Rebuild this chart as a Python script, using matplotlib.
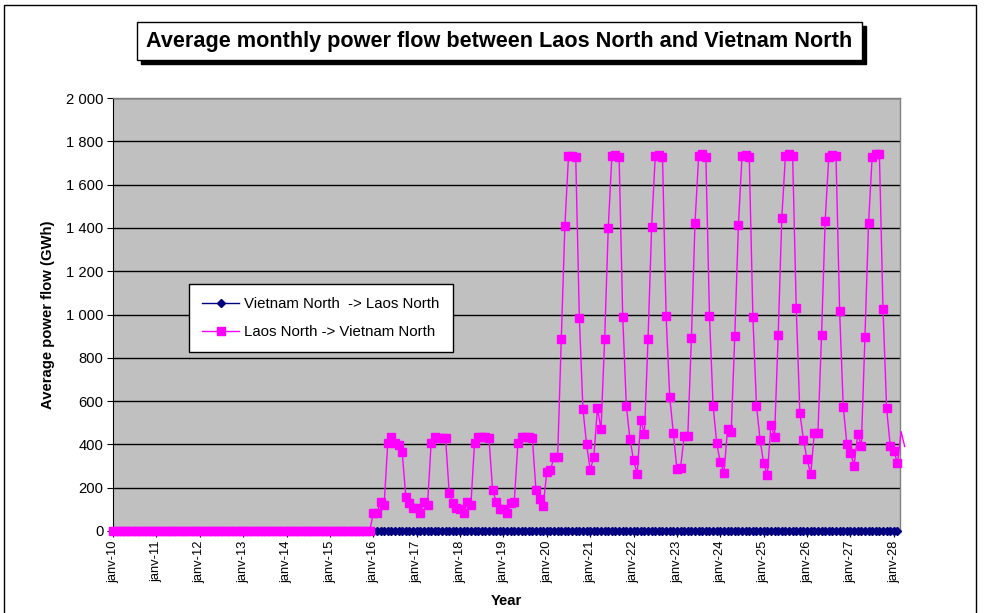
import matplotlib
matplotlib.use("Agg")
import matplotlib.pyplot as plt
from matplotlib.patches import Rectangle

plt.rcParams['font.family'] = ['Liberation Sans', 'DejaVu Sans']

# ---------------- data ----------------
title = "Average monthly power flow between Laos North and Vietnam North"
series_names = ["Vietnam North  -> Laos North", "Laos North -> Vietnam North"]
year_labels = ["janv-%02d" % y for y in range(10, 29)]

# Laos North -> Vietnam North, monthly GWh from Jan 2010
laos_2010_2015 = [0] * 72
laos_2016 = [82, 82, 135, 120, 405, 436, 408, 397, 363, 158, 129, 105]
laos_2017 = [105, 82, 135, 120, 405, 433, 430, 430, 428, 177, 131, 106]
laos_2018 = [100, 82, 134, 120, 406, 434, 436, 433, 428, 190, 135, 100]
laos_2019 = [100, 82, 128, 135, 405, 433, 436, 436, 428, 190, 148, 115]
laos_2020 = [274, 282, 340, 343, 885, 1409, 1732, 1732, 1729, 985, 562, 400]
laos_2021 = [282, 340, 566, 471, 885, 1401, 1732, 1737, 1729, 990, 577, 424]
laos_2022 = [328, 263, 513, 447, 887, 1406, 1732, 1737, 1729, 993, 620, 451]
laos_2023 = [285, 292, 439, 439, 890, 1424, 1732, 1741, 1729, 993, 579, 405]
laos_2024 = [317, 269, 471, 459, 902, 1413, 1732, 1737, 1729, 990, 579, 420]
laos_2025 = [312, 259, 490, 436, 905, 1444, 1732, 1741, 1732, 1029, 546, 420]
laos_2026 = [331, 262, 454, 454, 905, 1432, 1729, 1737, 1732, 1016, 574, 402]
laos_2027 = [362, 302, 448, 393, 895, 1421, 1729, 1741, 1741, 1025, 566, 393]
laos_2028 = [371, 312, 459, 390]

laos = (laos_2010_2015 + laos_2016 + laos_2017 + laos_2018 + laos_2019 +
        laos_2020 + laos_2021 + laos_2022 + laos_2023 + laos_2024 +
        laos_2025 + laos_2026 + laos_2027 + laos_2028)
# Vietnam North -> Laos North : zero throughout
vietnam = [0] * 218

y_ticks = list(range(0, 2001, 200))

# ---------------- figure ----------------
W, H = 986, 613
fig = plt.figure(figsize=(W / 100, H / 100), dpi=100)

def fx(px):
    return px / W

def fy(py):
    return 1 - py / H

# outer chart frame
fig.patches.append(Rectangle((fx(4), fy(640)), fx(976) - fx(4), fy(5) - fy(640),
                             transform=fig.transFigure, fill=False,
                             edgecolor='black', linewidth=1.0, zorder=0))

# plot area
L, R, T, B = 113, 900, 98, 531
ax = fig.add_axes([fx(L), fy(B), fx(R) - fx(L), fy(T) - fy(B)])
ax.set_facecolor('#C0C0C0')

n_last_marker = 217  # last month shown inside the plot (Feb 2028)
x_v = list(range(len(vietnam)))
x_l = list(range(len(laos)))

ax.plot(x_v, vietnam, color='#000080', linewidth=1.0, marker='D',
        markersize=4.2, markerfacecolor='#000080', markeredgecolor='#000080',
        clip_on=False, zorder=3, label=series_names[0])
ax.plot(x_l, laos, color='#FF00FF', linewidth=1.0, marker='s',
        markersize=5.8, markerfacecolor='#FF00FF', markeredgecolor='#FF00FF',
        markevery=list(range(0, n_last_marker + 1)),
        clip_on=False, zorder=4, label=series_names[1])

ax.set_xlim(0, 217.7)
ax.set_ylim(0, 2000)

ax.set_yticks(y_ticks)
ax.set_yticklabels([f"{v:,}".replace(",", " ") for v in y_ticks], fontsize=10.6)
ax.set_xticks([12 * i for i in range(len(year_labels))])
ax.set_xticklabels(year_labels, rotation=90, fontsize=9.3)

ax.grid(axis='y', color='black', linewidth=1.0)
ax.set_axisbelow(True)

for side in ['top', 'right']:
    ax.spines[side].set_color('#808080')
    ax.spines[side].set_linewidth(1.0)
ax.spines['left'].set_color('black')
ax.spines['bottom'].set_color('black')
ax.tick_params(axis='y', direction='out', length=4, width=0.8, pad=3)
ax.tick_params(axis='x', direction='out', length=4, width=0.8, pad=3)

ax.set_ylabel("Average power flow (GWh)", fontsize=10.7, fontweight='bold', labelpad=8)
ax.set_xlabel("Year", fontsize=10.7, fontweight='bold', labelpad=8)

leg = ax.legend(loc='upper left', bbox_to_anchor=((189 - L) / (R - L), 1 - (284 - T) / (B - T)),
                frameon=True, fancybox=False, fontsize=10.8, borderpad=0.85,
                labelspacing=0.95, handlelength=2.5, handletextpad=0.35,
                borderaxespad=0)
leg.get_frame().set_edgecolor('black')
leg.get_frame().set_linewidth(1.0)
leg.get_frame().set_facecolor('white')
leg.get_frame().set_alpha(1)

# title box with shadow
bx0, by0, bx1, by1 = 137, 22, 862, 60
fig.patches.append(Rectangle((fx(bx0 + 4), fy(by1 + 4)), fx(bx1) - fx(bx0), fy(by0) - fy(by1),
                             transform=fig.transFigure, facecolor='black',
                             edgecolor='black', zorder=1))
fig.patches.append(Rectangle((fx(bx0), fy(by1)), fx(bx1) - fx(bx0), fy(by0) - fy(by1),
                             transform=fig.transFigure, facecolor='white',
                             edgecolor='black', linewidth=1.0, zorder=2))
fig.text(fx((bx0 + bx1) / 2), fy((by0 + by1) / 2), title, ha='center', va='center',
         fontsize=15.6, fontweight='bold', zorder=3)

fig.savefig("out.png", dpi=100)
